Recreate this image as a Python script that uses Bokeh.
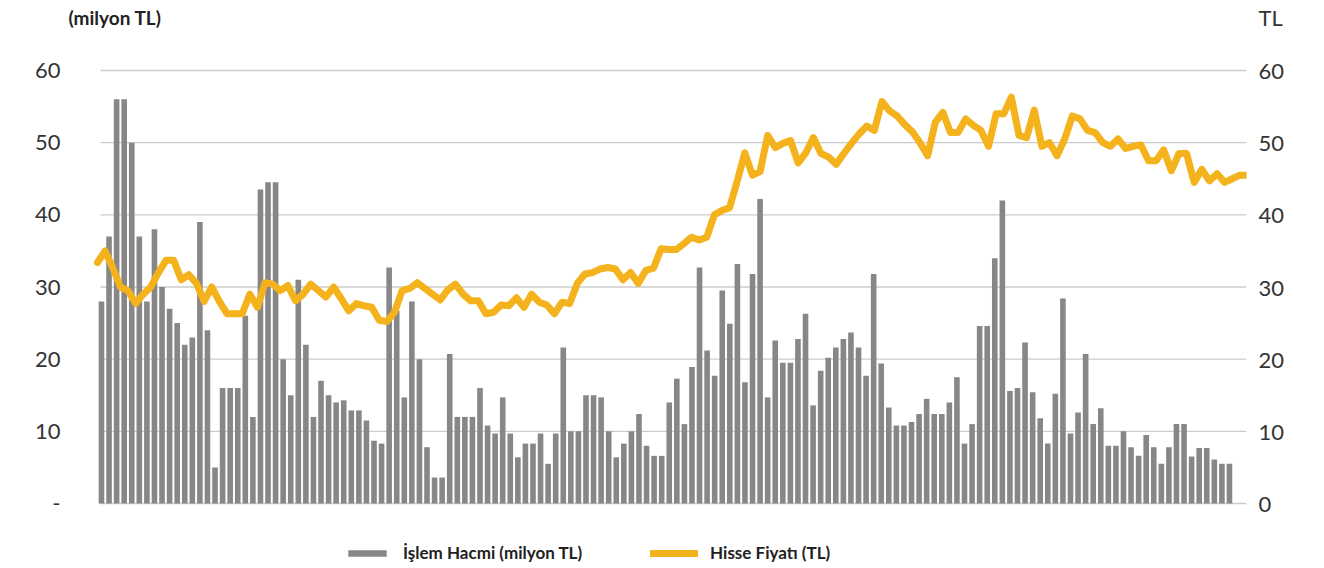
from bokeh.plotting import figure
from bokeh.models import Range1d, LinearAxis, FixedTicker, Label, Legend, LegendItem
from bokeh.embed import file_html
from bokeh.resources import INLINE

# İşlem Hacmi (milyon TL) - daily trading volume
volume = [28, 37, 56, 56, 50, 37, 28, 38, 30, 27,
          25, 22, 23, 39, 24, 5, 16, 16, 16, 26,
          12, 43.5, 44.5, 44.5, 20, 15, 31, 22, 12, 17,
          15, 14, 14.3, 12.9, 12.9, 11.5, 8.7, 8.3, 32.7, 26.7,
          14.7, 28, 20, 7.8, 3.6, 3.6, 20.7, 12, 12, 12,
          16, 10.8, 9.7, 14.7, 9.7, 6.4, 8.3, 8.3, 9.7, 5.5,
          9.7, 21.6, 10, 10, 15, 15, 14.7, 10, 6.4, 8.3,
          10, 12.4, 8, 6.6, 6.6, 14, 17.3, 11, 18.9, 32.7,
          21.2, 17.7, 29.5, 24.9, 33.2, 16.8, 31.8, 42.2, 14.7, 22.6,
          19.5, 19.5, 22.8, 26.3, 13.6, 18.4, 20.2, 21.6, 22.8, 23.7,
          21.6, 17.7, 31.8, 19.4, 13.3, 10.8, 10.8, 11.3, 12.4, 14.5,
          12.4, 12.4, 14, 17.5, 8.3, 11, 24.6, 24.6, 34, 42,
          15.6, 16, 22.3, 15.4, 11.8, 8.3, 15.2, 28.4, 9.7, 12.6,
          20.7, 11, 13.2, 8, 8, 10, 7.8, 6.6, 9.5, 7.8,
          5.5, 7.8, 11, 11, 6.5, 7.7, 7.7, 6.1, 5.5, 5.5]

# Hisse Fiyatı (TL) - share price
price = [33.4, 35, 32.7, 30, 29.5, 27.7, 29, 30, 32, 33.7,
         33.7, 31, 31.7, 30.5, 28, 30, 28, 26.3, 26.3, 26.3,
         29, 27.2, 30.6, 30.4, 29.5, 30.2, 28.1, 29, 30.4, 29.5,
         28.6, 30, 28.4, 26.7, 27.7, 27.4, 27.2, 25.4, 25.2, 26.5,
         29.5, 29.8, 30.6, 29.8, 29, 28.2, 29.6, 30.4, 29, 28.1,
         28.1, 26.3, 26.5, 27.5, 27.4, 28.5, 27.2, 29, 27.9, 27.5,
         26.3, 27.9, 27.7, 30.5, 31.8, 32, 32.5, 32.7, 32.5, 31,
         32, 30.5, 32.3, 32.6, 35.3, 35.2, 35.2, 36, 36.9, 36.5,
         36.9, 40, 40.6, 41, 44.7, 48.6, 45.5, 46, 51, 49.3,
         49.9, 50.3, 47.2, 48.6, 50.7, 48.5, 48, 47, 48.5, 49.9,
         51.2, 52.3, 51.7, 55.7, 54.4, 53.7, 52.5, 51.5, 50, 48.2,
         52.8, 54.2, 51.4, 51.4, 53.3, 52.4, 51.7, 49.5, 54, 54,
         56.3, 51, 50.7, 54.5, 49.5, 50, 48.2, 50.5, 53.7, 53.3,
         51.7, 51.4, 50, 49.5, 50.5, 49.2, 49.5, 49.7, 47.5, 47.5,
         49, 46.1, 48.5, 48.5, 44.5, 46.3, 44.7, 45.7, 44.5, 45,
         45.5, 45.5]

y_ticks = [0, 10, 20, 30, 40, 50, 60]
HEADER_Y = 67.34   # height (in axis units) of the header row above the plot

vol_x = list(range(len(volume)))
price_x = list(range(len(price)))

FONT = "Lato"

Y0, Y1 = -9.007, 69.70
p = figure(width=1324, height=568, output_backend="svg", toolbar_location=None,
           x_range=Range1d(-4.62, 151.25), y_range=Range1d(Y0, Y1),
           x_axis_location=None, y_axis_location=None)
p.min_border_left = 66
p.min_border_right = 78
p.min_border_top = 0
p.min_border_bottom = 0
p.outline_line_color = None
p.background_fill_color = "white"
p.border_fill_color = "white"
p.xgrid.visible = False
p.ygrid.visible = False

p.extra_x_ranges = {"line": Range1d(-4.07, 150.87)}
p.extra_y_ranges = {"price": Range1d(Y0, Y1)}

# horizontal gridlines spanning the plotting area only
grid_x0 = -0.13
grid_x1 = 151.25
p.segment(x0=[grid_x0] * len(y_ticks), x1=[grid_x1] * len(y_ticks), y0=y_ticks, y1=y_ticks,
          line_color="#cccccc", line_width=1.3)

bars = p.vbar(x=vol_x, top=volume, width=0.74, bottom=0,
              fill_color="#878787", line_color=None)
line = p.line(x=price_x, y=price, x_range_name="line", y_range_name="price",
              line_color="#F4B21C", line_width=7, line_join="round", line_cap="round")

left = LinearAxis(ticker=FixedTicker(ticks=y_ticks))
left.major_label_overrides = {0: "-"}
right = LinearAxis(y_range_name="price", ticker=FixedTicker(ticks=y_ticks + [HEADER_Y]))
right.major_label_overrides = {HEADER_Y: "TL"}
for ax, standoff in ((left, 0), (right, 6)):
    ax.axis_line_color = None
    ax.major_tick_line_color = None
    ax.minor_tick_line_color = None
    ax.major_label_standoff = standoff
    ax.major_label_text_font = FONT
    ax.major_label_text_font_size = "22px"
    ax.major_label_text_color = "#333333"
p.add_layout(left, "left")
p.add_layout(right, "right")

p.add_layout(Label(x=-4.36, y=HEADER_Y, text="(milyon TL)",
                   text_font=FONT, text_font_style="bold", text_font_size="19px",
                   text_color="#222222", text_baseline="middle", text_align="left"))

legend = Legend(items=[LegendItem(label="İşlem Hacmi (milyon TL)", renderers=[bars]),
                       LegendItem(label="Hisse Fiyatı (TL)", renderers=[line])],
                orientation="horizontal", location=(277, 5),
                glyph_width=48, glyph_height=8, label_height=20,
                label_standoff=12, spacing=68, padding=0, margin=0,
                border_line_color=None, background_fill_alpha=0,
                label_text_font=FONT, label_text_font_style="bold",
                label_text_font_size="17px", label_text_color="#222222")
p.add_layout(legend)

open("out.html", "w").write(file_html(p, INLINE))
